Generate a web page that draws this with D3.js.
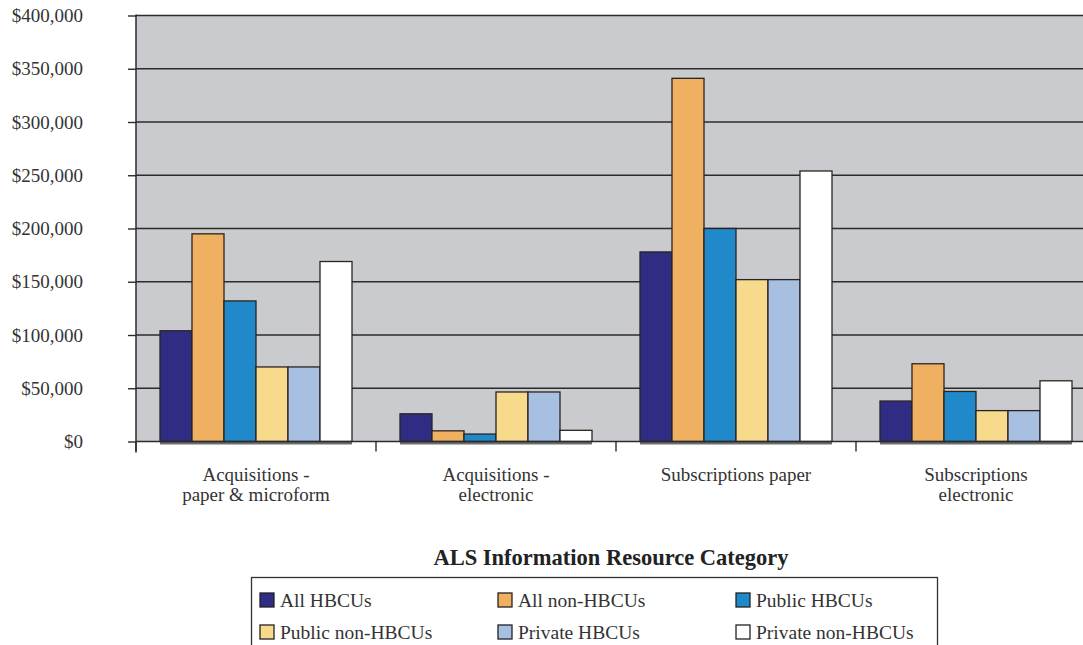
<!DOCTYPE html>
<html><head><meta charset="utf-8">
<script src="https://cdn.jsdelivr.net/npm/d3@7"></script>
<style>
html,body{margin:0;padding:0;background:#fff;}
svg{display:block;font-family:"Liberation Serif","Times New Roman",serif;}
</style></head>
<body>
<svg id="chart" width="1083" height="645"></svg>
<script>
const categories = [["Acquisitions -","paper  & microform"],["Acquisitions -","electronic"],["Subscriptions paper"],["Subscriptions","electronic"]];
const categoryKeys = ["acqPaper","acqElec","subPaper","subElec"];
const seriesNames = ["All HBCUs","All non-HBCUs","Public HBCUs","Public non-HBCUs","Private HBCUs","Private non-HBCUs"];
const seriesColors = ["#2e2d83","#f0b062","#1f89c9","#f8da8d","#a7bfe1","#ffffff"];
const allHBCUs        = [104000, 26000, 178000, 38000];
const allNonHBCUs     = [195000, 10000, 341000, 73000];
const publicHBCUs     = [132000,  7000, 200000, 47000];
const publicNonHBCUs  = [ 70000, 46500, 152000, 29000];
const privateHBCUs    = [ 70000, 46500, 152000, 29000];
const privateNonHBCUs = [169000, 10500, 254000, 57000];
const seriesValues = [allHBCUs, allNonHBCUs, publicHBCUs, publicNonHBCUs, privateHBCUs, privateNonHBCUs];
const yTicks = [0,50000,100000,150000,200000,250000,300000,350000,400000];
const xTitle = "ALS Information Resource Category";

const svg = d3.select("#chart");
const pLeft = 136, pRight = 1096, pTop = 15.5, pBottom = 441.5;
const y = d3.scaleLinear().domain([0,400000]).range([pBottom, pTop]);
const x0 = d3.scaleBand().domain(categoryKeys).range([pLeft, pRight]).padding(0);
const x1 = d3.scaleBand().domain(seriesNames).range([24, x0.bandwidth()-24]).padding(0);

// plot background
svg.append("rect").attr("x", pLeft).attr("y", pTop).attr("width", 1083-pLeft).attr("height", pBottom-pTop).attr("fill", "#c9cbce");

// gridlines
svg.append("g").selectAll("line").data(yTicks.slice(1)).join("line")
  .attr("x1", pLeft).attr("x2", 1083).attr("y1", d=>y(d)).attr("y2", d=>y(d))
  .attr("stroke", "#2b2b2b").attr("stroke-width", 1.4);

// bar base shadows
svg.append("g").selectAll("rect").data(categoryKeys).join("rect")
  .attr("x", d=>x0(d)+24).attr("y", pBottom).attr("width", x0.bandwidth()-48).attr("height", 3)
  .attr("fill", "#6d6e70");

// bars
const groups = svg.append("g").selectAll("g").data(categoryKeys).join("g")
  .attr("transform", d=>`translate(${x0(d)},0)`);
groups.selectAll("rect").data((d,i)=>seriesNames.map((s,j)=>({s, v: seriesValues[j][i], c: seriesColors[j]}))).join("rect")
  .attr("x", d=>x1(d.s)).attr("y", d=>y(d.v)).attr("width", x1.bandwidth()).attr("height", d=>pBottom-y(d.v))
  .attr("fill", d=>d.c).attr("stroke", "#2a2420").attr("stroke-width", 1.3);

// y axis
const yAxis = d3.axisLeft(y).tickValues(yTicks).tickSize(8).tickFormat(d=>"$"+d3.format(",")(d));
const ya = svg.append("g").attr("transform", `translate(${pLeft},0)`).call(yAxis);
ya.select(".domain").remove();
ya.selectAll(".tick line").attr("stroke", "#2b2b2b").attr("stroke-width", 1.4);
ya.selectAll(".tick text").attr("x", -53).attr("font-size", 19).attr("fill", "#333").attr("font-family", "Liberation Serif");
svg.append("line").attr("x1", pLeft).attr("x2", pLeft).attr("y1", pTop-1).attr("y2", pBottom+11).attr("stroke", "#2b2b2b").attr("stroke-width", 1.5);

// x axis
svg.append("line").attr("x1", pLeft).attr("x2", 1083).attr("y1", pBottom).attr("y2", pBottom).attr("stroke", "#2b2b2b").attr("stroke-width", 1.4);
svg.append("g").selectAll("line").data(categoryKeys).join("line")
  .attr("x1", d=>x0(d)).attr("x2", d=>x0(d)).attr("y1", pBottom).attr("y2", pBottom+10)
  .attr("stroke", "#2b2b2b").attr("stroke-width", 1.4);

// category labels
const xl = svg.append("g").selectAll("text").data(categoryKeys).join("text")
  .attr("x", d=>x0(d)+x0.bandwidth()/2).attr("y", 481)
  .attr("text-anchor", "middle").attr("font-size", 19).attr("fill", "#333");
xl.each(function(d,i){
  const t = d3.select(this);
  categories[i].forEach((line,k)=>{
    t.append("tspan").attr("x", x0(d)+x0.bandwidth()/2).attr("dy", k===0?0:20).text(line);
  });
});

// x title
svg.append("text").attr("x", 611).attr("y", 565).attr("text-anchor", "middle")
  .attr("font-size", 22.5).attr("font-weight", "bold").attr("fill", "#222").text(xTitle);

// legend
svg.append("rect").attr("x", 251.5).attr("y", 577.5).attr("width", 686).attr("height", 80)
  .attr("fill", "#fff").attr("stroke", "#333").attr("stroke-width", 1.3);
const lg = svg.append("g").selectAll("g").data(seriesNames).join("g")
  .attr("transform", (d,i)=>`translate(${260 + (i%3)*238},${593 + Math.floor(i/3)*32})`);
lg.append("rect").attr("width", 14).attr("height", 14)
  .attr("fill", (d,i)=>seriesColors[i]).attr("stroke", "#222").attr("stroke-width", 1.3);
lg.append("text").attr("x", 20).attr("y", 13.5).attr("font-size", 19.5).attr("fill", "#333").text(d=>d);
</script>
</body></html>
